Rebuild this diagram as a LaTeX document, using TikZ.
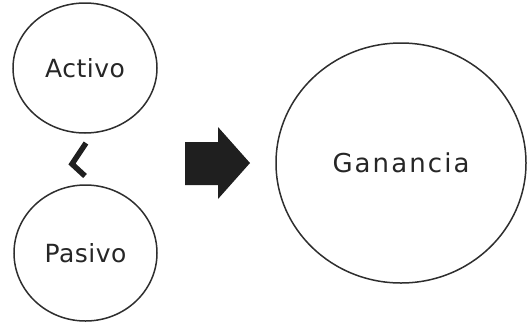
\documentclass[tikz,border=0pt]{standalone}
\usepackage{fontspec}
\setmainfont{DejaVu Sans}
\usetikzlibrary{shapes.geometric}
\begin{document}
\begin{tikzpicture}[x=1pt,y=-1pt,
  circ/.style={draw=black!82, line width=1.5pt, ellipse, inner sep=0pt, text=black!85},
  lbl/.style={font=\fontsize{25}{29}\selectfont\addfontfeatures{LetterSpace=2}}]
\useasboundingbox (0,0) rectangle (527,322);
\node[circ, lbl, minimum width=144pt, minimum height=130pt] (act) at (85,68) {Activo};
\node[circ, lbl, minimum width=143pt, minimum height=136pt] (pas) at (85.5,253) {Pasivo};
\node[circ, font=\fontsize{26}{30}\selectfont\addfontfeatures{LetterSpace=8}, minimum width=250pt, minimum height=240pt] (gan) at (401,163) {Ganancia};
\coordinate (chT) at (86,143);
\coordinate (chL) at (72,164);
\coordinate (chB) at (85,176);
\draw[line width=5.5pt, black!88, miter limit=10] (chT) -- (chL) -- (chB);
\fill[black!88] (185,142) -- (218,142) -- (218,127) -- (250,163) -- (218,199) -- (218,185) -- (185,185) -- cycle;
\end{tikzpicture}
\end{document}
